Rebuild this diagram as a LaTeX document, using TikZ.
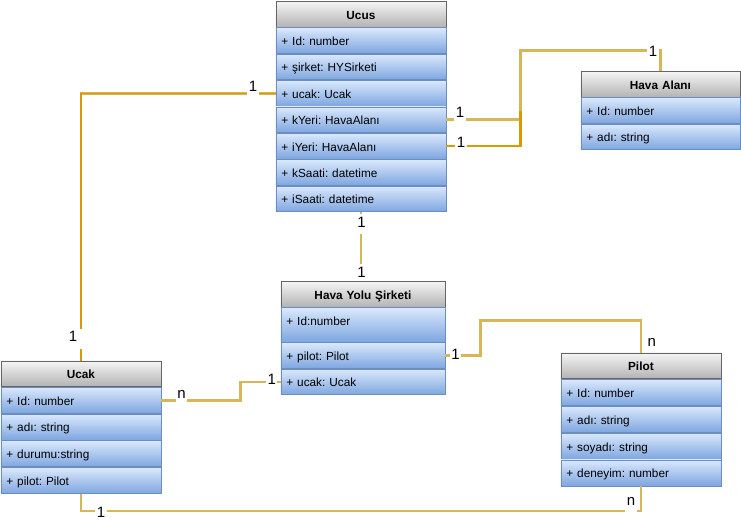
\documentclass[tikz,border=0pt]{standalone}
\usepackage{fontspec}
\setmainfont{Liberation Sans}
\definecolor{hdrtop}{HTML}{F5F5F5}
\definecolor{hdrbot}{HTML}{B3B3B3}
\definecolor{hdrline}{HTML}{666666}
\definecolor{rowtop}{HTML}{DAE8FC}
\definecolor{rowbot}{HTML}{7EA6E0}
\definecolor{rowline}{HTML}{6C8EBF}
\definecolor{gold}{HTML}{D6B656}
\definecolor{orng}{HTML}{D79B00}
\begin{document}
\frenchspacing
\begin{tikzpicture}[x=1pt,y=-1pt,
  box/.style={anchor=north west, inner xsep=5.5pt, inner ysep=0pt, line width=0.8pt,
    text height=10.4pt, text depth=0.6pt, font=\frenchspacing\fontsize{11.8}{13}\selectfont},
  hdr/.style={box, draw=hdrline, top color=hdrtop, bottom color=hdrbot, minimum height=25.5pt,
    font=\bfseries\fontsize{11.8}{13}\selectfont, align=center},
  row/.style={box, draw=rowline, top color=rowtop, bottom color=rowbot, minimum height=25.6pt, align=left},
  tall/.style={minimum height=26pt},
  wUcus/.style={minimum width=170pt, text width=159pt},
  wHA/.style={minimum width=159pt, text width=148pt},
  wHY/.style={minimum width=164pt, text width=153pt},
  wUcak/.style={minimum width=160pt, text width=149pt},
  wPilot/.style={minimum width=160pt, text width=149pt},
  conn/.style={draw=gold, line width=2.6pt},
  connO/.style={draw=orng, line width=2.6pt},
  connU/.style={draw=gold, double=orng, double distance=1.2pt, line width=0.7pt},
  lbl/.style={fill=white, font=\fontsize{15}{18}\selectfont, inner xsep=1.5pt, inner ysep=2pt,
    text height=11pt, text depth=5pt, anchor=base}
]
\path[fill=white, use as bounding box] (0,0) rectangle (741,523);

% Ucus
\node[hdr,wUcus] (ucus) at (275.5,1) {Ucus};
\node[row,wUcus] (ucus1) at (ucus.south west) {+ Id: number};
\node[row,wUcus] (ucus2) at (ucus1.south west) {+ şirket: HYSirketi};
\node[row,wUcus] (ucus3) at (ucus2.south west) {+ ucak: Ucak};
\node[row,wUcus] (ucus4) at (ucus3.south west) {+ kYeri: HavaAlanı};
\node[row,wUcus] (ucus5) at (ucus4.south west) {+ iYeri: HavaAlanı};
\node[row,wUcus] (ucus6) at (ucus5.south west) {+ kSaati: datetime};
\node[row,wUcus] (ucus7) at (ucus6.south west) {+ iSaati: datetime};

% Hava Alani
\node[hdr,wHA] (ha) at (580.5,71) {Hava Alanı};
\node[row,wHA] (ha1) at (ha.south west) {+ Id: number};
\node[row,wHA] (ha2) at (ha1.south west) {+ adı: string};

% Hava Yolu Sirketi
\node[hdr,wHY] (hy) at (280.5,281) {Hava Yolu Şirketi};
\node[row,wHY,minimum height=34.2pt,text height=17.7pt,text depth=16.5pt] (hy1) at (hy.south west) {+ Id:number};
\node[row,wHY] (hy2) at (hy1.south west) {+ pilot: Pilot};
\node[row,wHY] (hy3) at (hy2.south west) {+ ucak: Ucak};

% Ucak
\node[hdr,wUcak] (ucak) at (0.5,360.5) {Ucak};
\node[row,wUcak,tall] (ucak1) at (ucak.south west) {+ Id: number};
\node[row,wUcak,tall] (ucak2) at (ucak1.south west) {+ adı: string};
\node[row,wUcak,tall] (ucak3) at (ucak2.south west) {+ durumu:string};
\node[row,wUcak,tall] (ucak4) at (ucak3.south west) {+ pilot: Pilot};

% Pilot
\node[hdr,wPilot,minimum height=25.8pt] (pilot) at (560.5,352.5) {Pilot};
\node[row,wPilot,tall] (pilot1) at (pilot.south west) {+ Id: number};
\node[row,wPilot,tall] (pilot2) at (pilot1.south west) {+ adı: string};
\node[row,wPilot,tall] (pilot3) at (pilot2.south west) {+ soyadı: string};
\node[row,wPilot,tall] (pilot4) at (pilot3.south west) {+ deneyim: number};

% junction points
\coordinate (jA) at (520.5,50.5);
\coordinate (jB) at (520.5,111);
\coordinate (jC) at (480.5,320.5);
\coordinate (jD) at (240.5,0);
\coordinate (jE) at (0,511);

% connectors
\draw[connU] (ucus3.west) -| (ucak.north);
\draw[conn] (ucus4.east) -| (jA) -| (ha.north);
\draw[connO] (ucus5.east) -| (jB);
\draw[conn] (ucus7.south) -- (ucus7.south |- hy.north);
\draw[conn] (hy2.east) -| (jC) -| (pilot.north);
\draw[conn] (ucak1.east) -- (ucak1.east -| jD) -- (jD |- hy3.west) -- (hy3.west);
\draw[conn] (ucak4.south) -- (ucak4.south |- jE) -- (pilot4.south |- jE) -- (pilot4.south);

% multiplicity labels
\node[lbl] (l1) at (253,91.5) {1};
\node[lbl, inner xsep=5pt] (l2) at (73,341.5) {1};
\node[lbl] (l3) at (460,117) {1};
\node[lbl] (l4) at (461,147) {1};
\node[lbl] (l5) at (653,56) {1};
\node[lbl] (l6) at (361.5,227) {1};
\node[lbl, text depth=2pt] (l7) at (361.5,277) {1};
\node[lbl] (l8) at (455.5,359.5) {1};
\node[lbl, text depth=2pt] (l9) at (651.7,346) {n};
\node[lbl] (l10) at (181.5,398.5) {n};
\node[lbl] (l11) at (271.7,384.5) {1};
\node[lbl] (l12) at (101,517) {1};
\node[lbl] (l13) at (631,505) {n};
\end{tikzpicture}
\end{document}
